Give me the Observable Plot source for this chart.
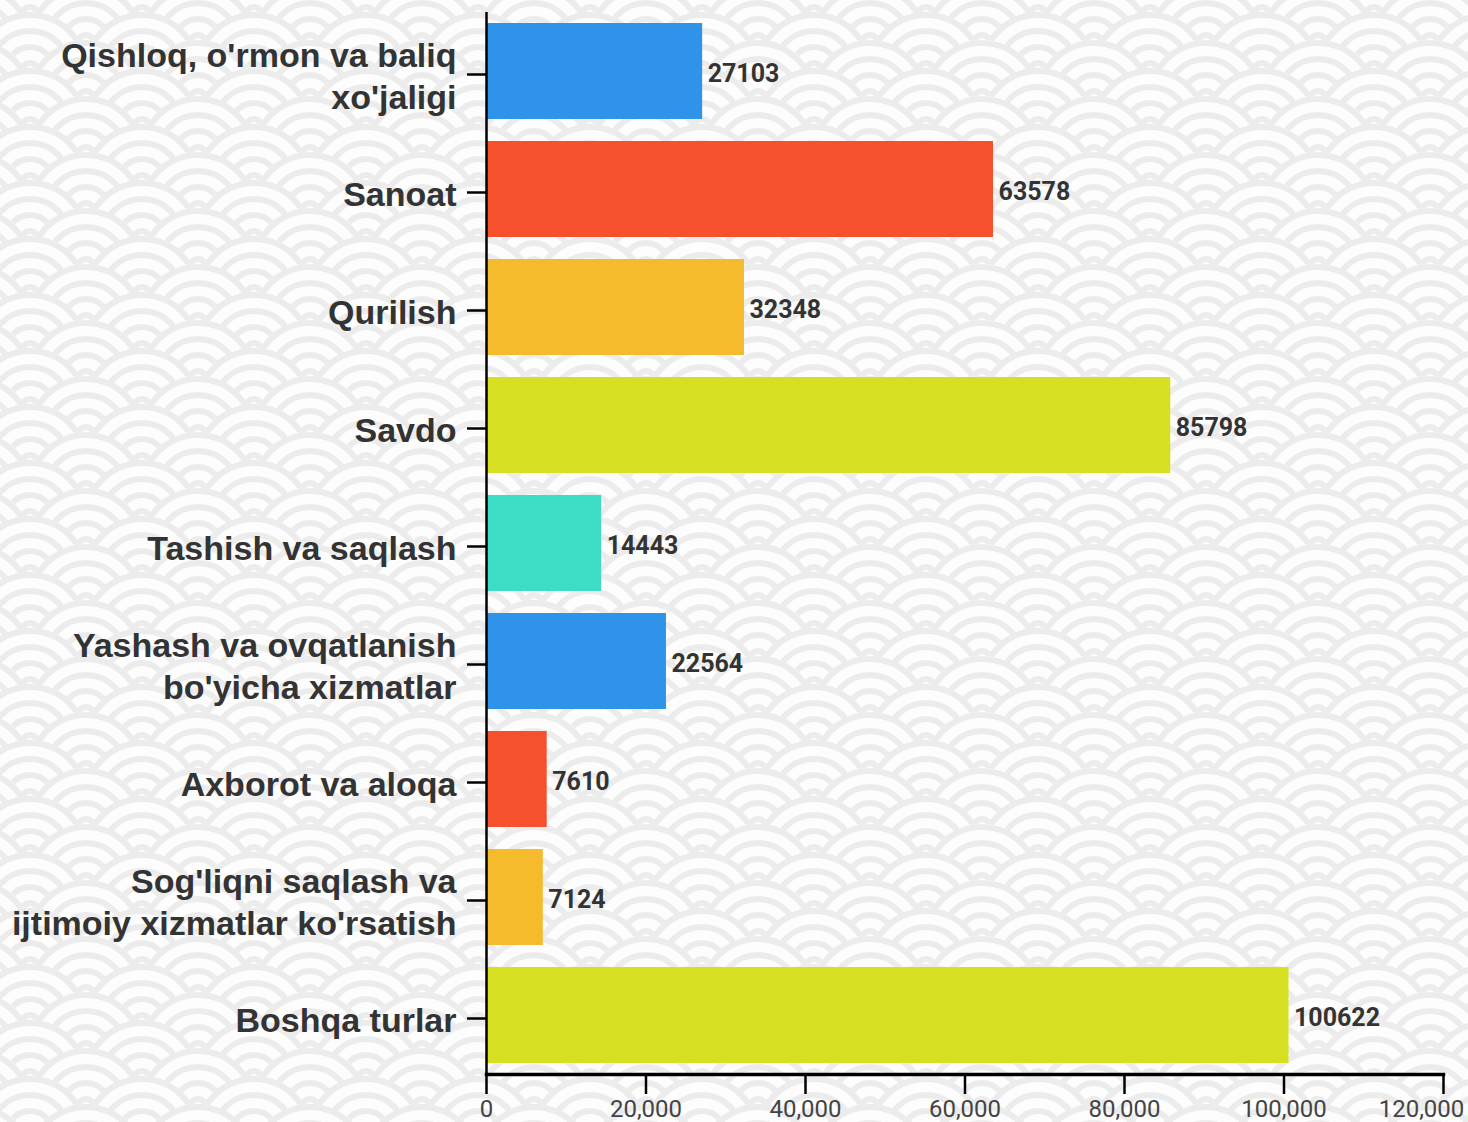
<!DOCTYPE html>
<html>
<head>
<meta charset="utf-8">
<script src="https://cdn.jsdelivr.net/npm/d3@7"></script>
<script src="https://cdn.jsdelivr.net/npm/@observablehq/plot@0.6"></script>
<style>
  html, body { margin: 0; padding: 0; background: #fff; }
  #wrap { position: relative; width: 1468px; height: 1122px; overflow: hidden; }
  #bg { position: absolute; left: 0; top: 0; }
  #chart { position: absolute; left: 0; top: 0; }
  #chart svg { background: transparent; overflow: visible; }
</style>
</head>
<body>
<div id="wrap"><svg id="bg" width="1468" height="1122"></svg><div id="chart"></div></div>
<script>
const categories = [
  "Qishloq, o'rmon va baliq\nxo'jaligi",
  "Sanoat",
  "Qurilish",
  "Savdo",
  "Tashish va saqlash",
  "Yashash va ovqatlanish\nbo'yicha xizmatlar",
  "Axborot va aloqa",
  "Sog'liqni saqlash va\nijtimoiy xizmatlar ko'rsatish",
  "Boshqa turlar"
];
const values = [27103, 63578, 32348, 85798, 14443, 22564, 7610, 7124, 100622];
const colors = ["#2f94e9", "#f6502c", "#f6bb2c", "#d7df23", "#3ddcc5", "#2f94e9", "#f6502c", "#f6bb2c", "#d7df23"];
const xTicks = [0, 20000, 40000, 60000, 80000, 100000, 120000];

const data = categories.map((c, i) => ({category: c, value: values[i], color: colors[i]}));

// decorative seigaiha background
(function drawBackground() {
  const bg = d3.select("#bg");
  bg.append("rect").attr("width", 1468).attr("height", 1122).attr("fill", "#fdfdfd");
  const R = 56, dx = 112, dy = 28, x0 = 1262, y0 = 183;
  const rings = [56, 40, 24, 8];
  const jStart = Math.floor((0 - y0) / dy) - 2, jEnd = Math.ceil((1122 + R - y0) / dy);
  for (let j = jStart; j <= jEnd; j++) {
    const cy = y0 + j * dy;
    const off = ((j % 2) + 2) % 2 ? dx / 2 : 0;
    const kStart = Math.floor((0 - R - x0 - off) / dx), kEnd = Math.ceil((1468 + R - x0 - off) / dx);
    for (let k = kStart; k <= kEnd; k++) {
      const cx = x0 + off + k * dx;
      const g = bg.append("g").attr("transform", `translate(${cx},${cy})`);
      g.append("circle").attr("r", R + 3).attr("fill", "#fdfdfd");
      for (const r of rings) {
        g.append("circle").attr("r", r).attr("fill", "none").attr("stroke", "#ececec").attr("stroke-width", 6);
      }
    }
  }
})();

const lastTick = xTicks[xTicks.length - 1];
const fmt = d3.format(",");

const chart = Plot.plot({
  width: 1468,
  height: 1122,
  marginTop: 12,
  marginBottom: 48,
  marginLeft: 486,
  marginRight: 25,
  style: {background: "transparent", color: "black"},
  x: {domain: [0, 120000], axis: null},
  y: {domain: categories, paddingInner: 0.19, paddingOuter: 0.095, axis: null},
  marks: [
    Plot.barX(data, {x: "value", y: "category", fill: "color"}),
    Plot.text(data, {
      x: "value", y: "category", text: d => String(d.value),
      dx: 5, dy: 2, textAnchor: "start",
      fontFamily: "Roboto", fontWeight: "bold", fontSize: 25, fill: "#333"
    }),
    Plot.axisY({
      anchor: "left", tickSize: 19, tickPadding: 11,
      stroke: "black", strokeWidth: 2.5, fill: "#333",
      fontFamily: "'Liberation Sans', Arial, sans-serif", fontWeight: "bold", fontSize: 34,
      lineHeight: 1.235, dy: 3, label: null
    }),
    Plot.axisX({
      anchor: "bottom", ticks: xTicks, tickSize: 20, tickPadding: 5,
      tickFormat: d => d === lastTick ? "" : fmt(d), stroke: "black", strokeWidth: 2.5, fill: "#444",
      fontFamily: "Roboto", fontSize: 24, label: null
    }),
    Plot.axisX({
      anchor: "bottom", ticks: [lastTick], tickSize: 0, tickPadding: 25, dx: -22,
      tickFormat: fmt, fill: "#444",
      fontFamily: "Roboto", fontSize: 24, label: null
    }),
    Plot.ruleX([0], {stroke: "black", strokeWidth: 2.5}),
    Plot.frame({anchor: "bottom", stroke: "black", strokeWidth: 3.5})
  ]
});
document.getElementById("chart").appendChild(chart);
</script>
</body>
</html>
